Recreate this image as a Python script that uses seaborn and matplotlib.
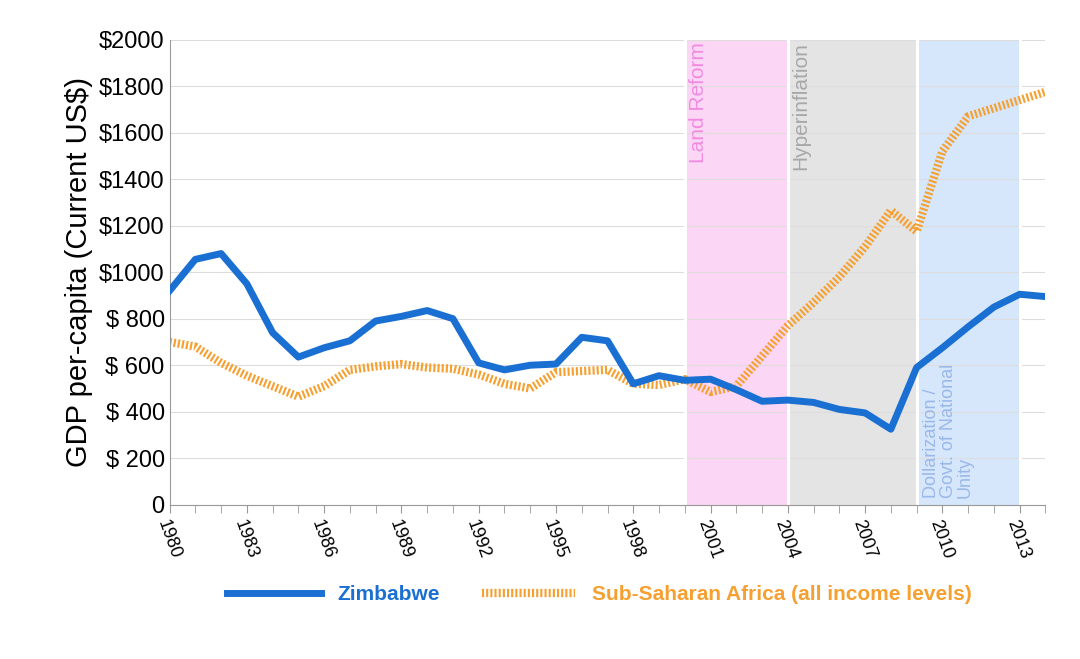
import matplotlib
matplotlib.use("Agg")
import matplotlib.pyplot as plt
import seaborn as sns
import pandas as pd

plt.rcParams["font.family"] = "Liberation Sans"

years = list(range(1980, 2015))
zimbabwe = [920, 1055, 1080, 950, 740, 635, 675, 705, 790, 810, 835, 800, 610, 580, 600, 605,
            720, 705, 520, 555, 535, 540, 495, 445, 450, 440, 410, 395, 325, 590, 675, 765, 850, 905, 895]
ssa = [700, 680, 610, 555, 510, 465, 510, 580, 595, 605, 590, 585, 560, 520, 500, 570,
       575, 580, 520, 515, 540, 485, 510, 640, 770, 870, 980, 1110, 1265, 1175, 1520, 1670, 1705, 1740, 1775]
periods = [("Land Reform", 2000, 2004, "#fcd6f5", "#f08ce0"),
           ("Hyperinflation", 2004, 2009, "#e4e4e4", "#a8a8a8"),
           ("Dollarization /\nGovt. of National\nUnity", 2009, 2013, "#d6e6fb", "#9ab8e8")]
ytick_vals = [0, 200, 400, 600, 800, 1000, 1200, 1400, 1600, 1800, 2000]
ytick_labels = ["0", "$ 200", "$ 400", "$ 600", "$ 800", "$1000", "$1200", "$1400", "$1600", "$1800", "$2000"]

df = pd.DataFrame({"year": years, "Zimbabwe": zimbabwe, "SSA": ssa})

fig = plt.figure(figsize=(10.8, 6.59), dpi=100)
ax = fig.add_axes([0.157, 0.234, 0.811, 0.706])

for name, a, b, fc, tc in periods:
    ax.axvspan(a, b, color=fc, zorder=0, lw=0)
    ax.axvline(a, color="white", lw=2, zorder=0.5)
    ax.axvline(b, color="white", lw=2, zorder=0.5)
    if name.startswith("Dollar"):
        ax.text(a + 0.25, 30, name, rotation=90, ha="left", va="bottom", color=tc, fontsize=13, linespacing=1.0)
    else:
        ax.text(a + 0.15, 1990, name, rotation=90, ha="left", va="top", color=tc, fontsize=15)

for v in ytick_vals:
    ax.axhline(v, color="#dddddd", lw=0.8, zorder=0.3)

sns.lineplot(data=df, x="year", y="SSA", ax=ax, color="#f5a030", lw=6,
             dashes=False, label="Sub-Saharan Africa (all income levels)", zorder=2)
ax.lines[-1].set_linestyle((0, (0.25, 0.25)))
sns.lineplot(data=df, x="year", y="Zimbabwe", ax=ax, color="#1a70d2", lw=5,
             label="Zimbabwe", zorder=3)

ax.set_xlim(1980, 2014)
ax.set_ylim(0, 2000)
ax.set_xticks(range(1980, 2015, 3))
ax.set_xticks(range(1980, 2015), minor=True)
ax.set_xticklabels([str(y) for y in range(1980, 2015, 3)], rotation=-70, ha="left",
                   rotation_mode="anchor", fontsize=13)
ax.tick_params(axis="x", which="both", length=6, color="#999999", direction="out", pad=3)
ax.set_yticks(ytick_vals)
ax.set_yticklabels(ytick_labels, fontsize=17)
ax.tick_params(axis="y", length=0)
ax.set_xlabel("")
ax.set_ylabel("GDP per-capita (Current US$)", fontsize=21)
for s in ["top", "right"]:
    ax.spines[s].set_visible(False)
for s in ["left", "bottom"]:
    ax.spines[s].set_color("#999999")

h, l = ax.get_legend_handles_labels()
leg = fig.legend([h[1], h[0]], [l[1], l[0]], loc="lower center", bbox_to_anchor=(0.555, 0.055),
                 ncol=2, frameon=False, fontsize=15, handlelength=4.5, columnspacing=2)
ax.get_legend().remove()
for t, c in zip(leg.get_texts(), ["#1a70d2", "#f5a030"]):
    t.set_color(c)
    t.set_fontweight("bold")

fig.savefig("out.png", dpi=100)
